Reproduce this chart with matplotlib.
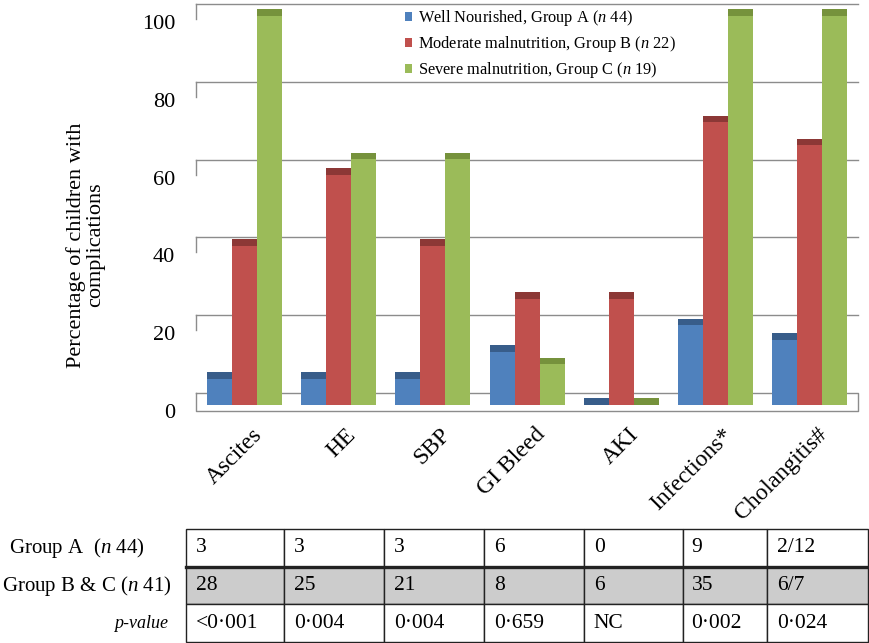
import matplotlib
matplotlib.use('Agg')
import matplotlib.pyplot as plt
import matplotlib.transforms as mtransforms
from matplotlib.patches import Patch
import numpy as np

plt.rcParams['font.family'] = ['Liberation Serif', 'DejaVu Serif']
plt.rcParams['mathtext.fontset'] = 'custom'
plt.rcParams['mathtext.rm'] = 'Liberation Serif'
plt.rcParams['mathtext.it'] = 'Liberation Serif:italic'

# data (percent of children with each complication)
categories = ['Ascites', 'HE', 'SBP', 'GI Bleed', 'AKI', 'Infections*', 'Cholangitis#']
group_a = [6.8, 6.8, 6.8, 13.6, 0.0, 20.5, 16.7]
group_b = [40.9, 59.1, 40.9, 27.3, 27.3, 72.7, 66.7]
group_c = [100.0, 63.2, 63.2, 10.5, 0.0, 100.0, 100.0]
series_names = ['Well Nourished, Group A ($n$ 44)',
                'Moderate malnutrition, Group B ($n$ 22)',
                'Severe malnutrition, Group C ($n$ 19)']
yticks = [0, 20, 40, 60, 80, 100]

# table under the chart
row_labels = ['Group A  ($n$ 44)', 'Group B & C ($n$ 41)', 'p-value']
row_a = ['3', '3', '3', '6', '0', '9', '2/12']
row_bc = ['28', '25', '21', '8', '6', '35', '6/7']
row_p = ['<0\u00b7001', '0\u00b7004', '0\u00b7004', '0\u00b7659', 'NC', '0\u00b7002', '0\u00b7024']

colors = ['#4f81bd', '#c0504d', '#9bbb59']
cap_colors = ['#385d8a', '#8c3836', '#76923c']
grid_col = '#8c8c8c'

W, H = 870, 643
fig = plt.figure(figsize=(W / 100, H / 100), dpi=100)
ax = fig.add_axes([190 / W, (H - 420) / H, 680 / W, 420 / H])

x = np.arange(len(categories))
bw = 0.2654
depth = 3.08   # back wall offset (value units)
cap = 1.7      # visible top face of each column

# back wall gridlines with the little side-wall bracket on the left
x0, x1 = -0.515, 6.513
for v in yticks[1:]:
    ax.plot([x0, x1], [v + depth, v + depth], color=grid_col, lw=1.0, zorder=1)
    ax.plot([x0, x0], [v + depth, v + depth - 3.86], color=grid_col, lw=1.0, zorder=1)
# floor
ax.plot([x0, x1, x1, x0, x0], [depth, depth, -1.54, -1.54, depth],
        color=grid_col, lw=1.0, zorder=1)

for i, vals in enumerate([group_a, group_b, group_c]):
    pos = x + (i - 1) * bw
    ax.bar(pos, vals, width=bw, color=colors[i], zorder=2, linewidth=0)
    ax.bar(pos, cap, bottom=vals, width=bw, color=cap_colors[i], zorder=2, linewidth=0)

ax.set_xlim(-0.5786, 6.640)
ax.set_ylim(-3.86, 104.1)
for s in ax.spines.values():
    s.set_visible(False)

ax.set_yticks(yticks)
ax.set_yticklabels([str(t) for t in yticks], fontsize=16)
ax.tick_params(axis='y', length=0, pad=10.8)
dy = mtransforms.ScaledTranslation(0, -6 / 100, fig.dpi_scale_trans)
for lab in ax.get_yticklabels():
    lab.set_transform(lab.get_transform() + dy)

ax.set_xticks(x)
ax.set_xticklabels(categories, rotation=45, ha='right', va='top',
                   rotation_mode='anchor', fontsize=17)
ax.tick_params(axis='x', length=0, pad=3)
dx = mtransforms.ScaledTranslation(7 / 100, 0, fig.dpi_scale_trans)
for lab in ax.get_xticklabels():
    lab.set_transform(lab.get_transform() + dx)

fig.text(86 / W, 1 - 245 / H, 'Percentage of children with\ncomplications',
         rotation=90, ha='center', va='center', fontsize=16, linespacing=1.0)

handles = [Patch(facecolor=c, edgecolor='none') for c in colors]
fig.legend(handles, series_names, loc='upper left',
           bbox_to_anchor=(405 / W, 1 - 8 / H), frameon=False, fontsize=11.8,
           handlelength=0.45, handleheight=0.45, handletextpad=0.35,
           labelspacing=0.38, borderpad=0, borderaxespad=0)

# table
tax = fig.add_axes([186 / W, 1 / H, (868 - 186) / W, (642 - 529) / H])
tax.axis('off')
col_w = [98, 100, 100, 100, 99, 84, 101]
cell_colors = [['white'] * 7, ['#cccccc'] * 7, ['white'] * 7]
tbl = tax.table(cellText=[row_a, row_bc, row_p], cellColours=cell_colors,
                colWidths=[w / sum(col_w) for w in col_w], cellLoc='left',
                bbox=[0, 0, 1, 1])
tbl.auto_set_font_size(False)
tbl.set_fontsize(15.5)
for cell in tbl.get_celld().values():
    cell.set_edgecolor('#222222')
    cell.set_linewidth(1.0)
tax.plot([0, 1], [2 / 3, 2 / 3], color='#222222', lw=2.4, transform=tax.transAxes,
         clip_on=False, zorder=5)

row_y = [548, 586, 623]
fig.text(9 / W, 1 - row_y[0] / H, row_labels[0], ha='left', va='center', fontsize=15)
fig.text(2 / W, 1 - row_y[1] / H, row_labels[1], ha='left', va='center', fontsize=15)
fig.text(168 / W, 1 - row_y[2] / H, row_labels[2], ha='right', va='center',
         fontsize=13, style='italic')

fig.savefig('out.png', dpi=100)
